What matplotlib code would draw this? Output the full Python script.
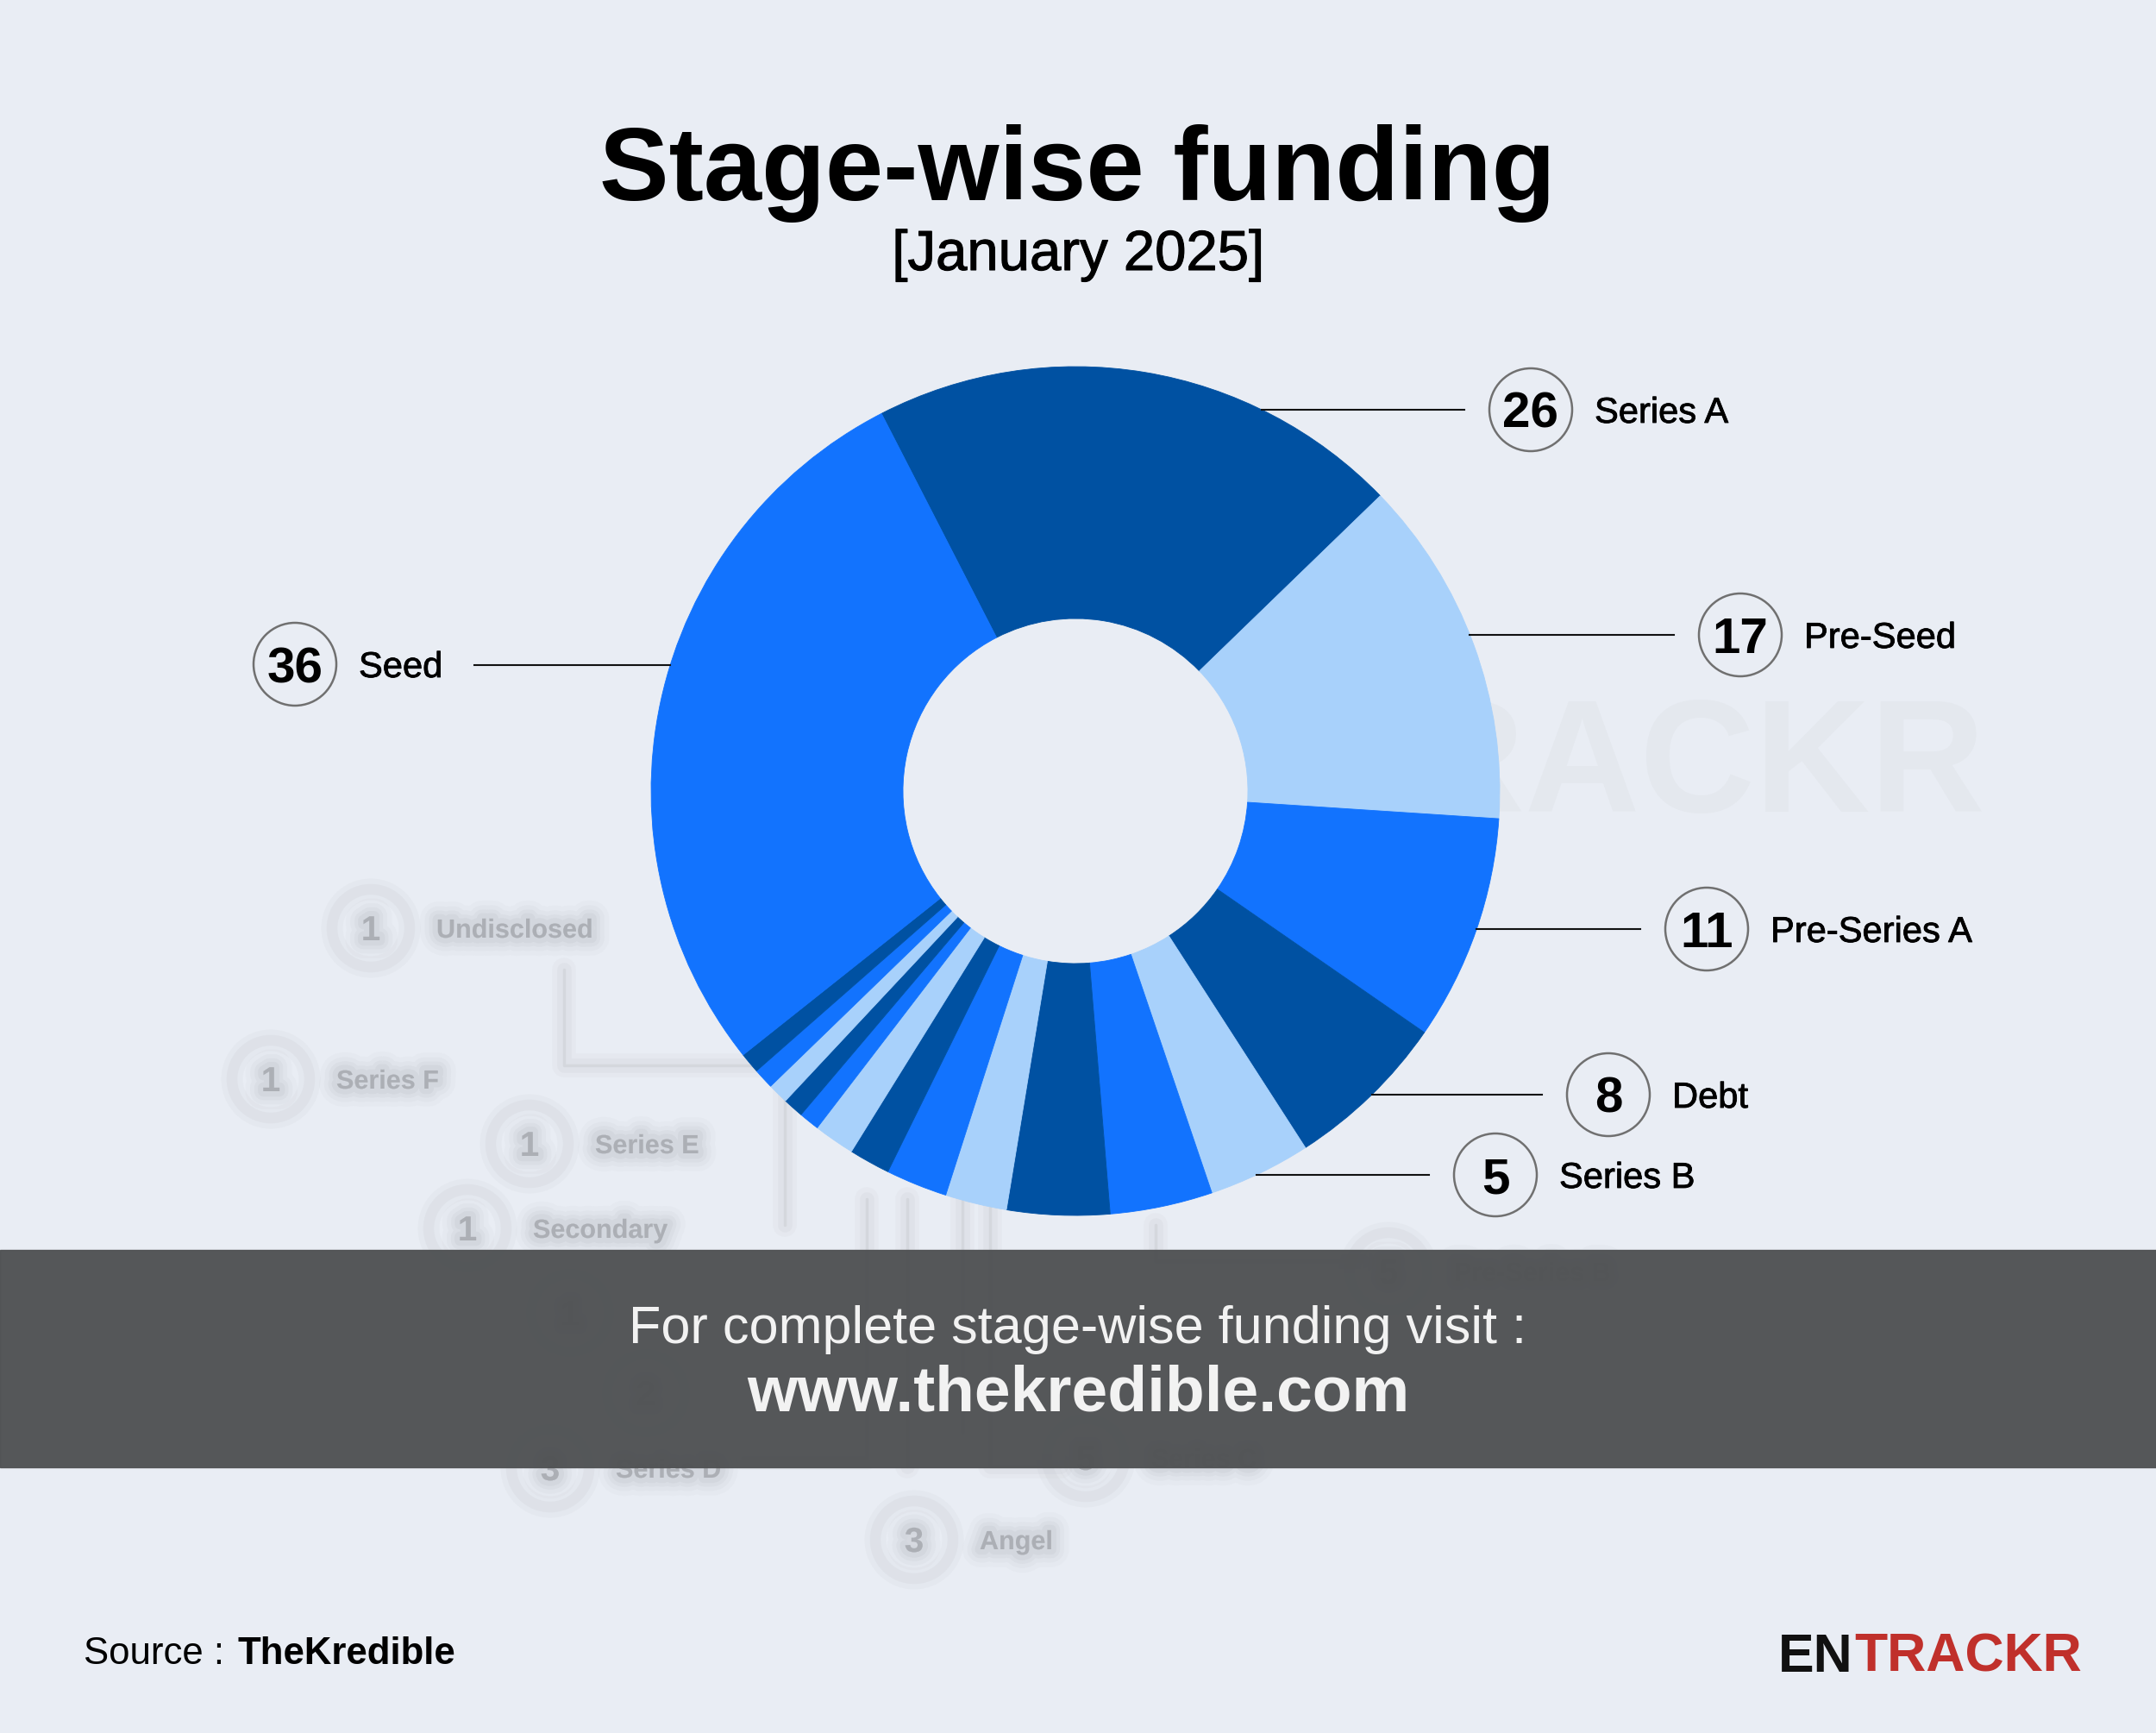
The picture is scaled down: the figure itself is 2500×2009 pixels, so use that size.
import matplotlib
matplotlib.use("Agg")
import matplotlib.pyplot as plt
import matplotlib.patheffects as pe
from matplotlib.patches import Circle, Rectangle

W, H = 2500, 2009
plt.rcParams['font.family'] = ['Liberation Sans', 'DejaVu Sans']

# ---- data (number of deals per stage, clockwise from Series A) ----
stages = ["Series A", "Pre-Seed", "Pre-Series A", "Debt", "Series B",
          "Pre-Series B", "Series C", "Angel", "Series D", "Bridge", "Pre-Series C",
          "Undisclosed", "Series F", "Series E", "Secondary", "Series G", "Seed"]
deals = [26, 17, 11, 8, 5,
         5, 5, 3, 3, 2, 2,
         1, 1, 1, 1, 1, 36]

# stages called out with a number bubble
callouts_right = ["Series A", "Pre-Seed", "Pre-Series A", "Debt", "Series B"]
callouts_left = ["Seed"]
# stages shown blurred in the background (last two sit under the banner)
blurred = ["Undisclosed", "Series F", "Series E", "Secondary",
           "Series D", "Angel", "Series C", "Pre-Series B", "Series G", "Bridge"]

title = "Stage-wise funding"
subtitle = "[January 2025]"
banner_1 = "For complete stage-wise funding visit :"
banner_2 = "www.thekredible.com"

# ---- styling ----
BG = "#e9edf4"
DARK, LIGHT, BRIGHT = "#0051a2", "#a8d1fb", "#1273fe"
cx, cy, R, r_in = 1247, 917, 492, 200


def Y(y):
    return H - y


fig = plt.figure(figsize=(W / 100, H / 100), dpi=100, facecolor=BG)
ax = fig.add_axes([0, 0, 1, 1])
ax.set_facecolor(BG)

# faint watermark behind the donut
ax.text(2302, Y(941), "ENTRACKR", fontsize=133, fontweight="bold",
        color="#e4e8ee", ha="right", va="baseline", zorder=0)
ax.add_patch(Circle((cx, Y(cy)), r_in + 2, color=BG, zorder=1))

# blurred background tree
gray = "#8f9298"
fx_text = [pe.withStroke(linewidth=30, foreground=gray, alpha=0.035),
           pe.withStroke(linewidth=22, foreground=gray, alpha=0.05),
           pe.withStroke(linewidth=15, foreground=gray, alpha=0.07),
           pe.withStroke(linewidth=9, foreground=gray, alpha=0.09)]
fx_line = [pe.Stroke(linewidth=20, foreground="#c9ccd2", alpha=0.12),
           pe.Stroke(linewidth=12, foreground="#c9ccd2", alpha=0.2),
           pe.Normal()]
fx_ring = [pe.Stroke(linewidth=18, foreground="#c6c9ce", alpha=0.12),
           pe.Stroke(linewidth=9, foreground="#c6c9ce", alpha=0.2)]
blur_pos = [(430, 1076), (314, 1251), (614, 1326), (542, 1424),
            (638, 1702), (1060, 1785), (1259, 1690), (1610, 1474),
            (661, 1522), (749, 1615)]
segs = [[(654, 1124), (654, 1235), (910, 1235), (910, 1420)],
        [(1005, 1390), (1005, 1690), (861, 1690)],
        [(1052, 1390), (1052, 1700)],
        [(1116, 1390), (1116, 1660)],
        [(1148, 1390), (1148, 1700), (1230, 1700)],
        [(1340, 1420), (1340, 1462), (1580, 1462)]]
for s in segs:
    xs = [p[0] for p in s]
    ys = [Y(p[1]) for p in s]
    ax.plot(xs, ys, color="#cdd0d5", lw=2.5, alpha=0.6, zorder=1,
            path_effects=fx_line, solid_capstyle="round")
for i, (name, (bx, by)) in enumerate(zip(blurred, blur_pos)):
    val = deals[stages.index(name)]
    c = Circle((bx, Y(by)), 45, fill=False, ec="#c3c6cb", lw=2, alpha=0.6, zorder=1)
    c.set_path_effects(fx_ring)
    ax.add_patch(c)
    ax.text(bx, Y(by) - 14, str(val), fontsize=29, fontweight="bold", color=gray,
            alpha=0.12, ha="center", va="baseline", zorder=1, path_effects=fx_text)
    if i < 8:
        ax.text(bx + 76, Y(by) - 11, name, fontsize=22, fontweight="bold", color=gray,
                alpha=0.12, ha="left", va="baseline", zorder=1, path_effects=fx_text)

# donut
palette = [DARK, LIGHT, BRIGHT]
colors = [palette[i % 3] for i in range(len(deals) - 1)] + [BRIGHT]
wedges, _ = ax.pie(deals, colors=colors, startangle=117.2, counterclock=False,
                   radius=R, center=(cx, Y(cy)),
                   wedgeprops=dict(width=R - r_in, linewidth=0.6),
                   frame=True)
for w, col in zip(wedges, colors):
    w.set_edgecolor(col)
    w.set_zorder(2)

# callouts
label_y = {"Series A": 475, "Pre-Seed": 736, "Pre-Series A": 1077,
           "Debt": 1269, "Series B": 1362, "Seed": 771}
line_end = {"Series A": 1698, "Pre-Seed": 1941, "Pre-Series A": 1902,
            "Debt": 1788, "Series B": 1657, "Seed": 550}


def bubble(x, y, name):
    val = deals[stages.index(name)]
    ax.add_patch(Circle((x, Y(y)), 48, fill=False, ec="#707070", lw=1.8, zorder=3))
    ax.text(x, Y(y) - 21, str(val), fontsize=42, fontweight="bold",
            color="black", ha="center", va="baseline", zorder=4)
    ax.text(x + 74, Y(y) - 15, name, fontsize=30, color="black",
            ha="left", va="baseline", zorder=4,
            path_effects=[pe.withStroke(linewidth=0.6, foreground="black")])


for name in callouts_right:
    y = label_y[name]
    x0 = cx + (R ** 2 - (cy - y) ** 2) ** 0.5
    ax.plot([x0, line_end[name]], [Y(y), Y(y)], color="#111111", lw=1.5, zorder=3)
    bubble(line_end[name] + 77, y, name)

for name in callouts_left:
    y = label_y[name]
    x0 = cx - (R ** 2 - (cy - y) ** 2) ** 0.5
    ax.plot([line_end[name], x0], [Y(y), Y(y)], color="#111111", lw=1.5, zorder=3)
    bubble(342, y - 1, name)

# titles
ax.text(1249, Y(232), title, fontsize=87, fontweight="bold", color="black",
        ha="center", va="baseline", zorder=5)
ax.text(1250, Y(313), subtitle, fontsize=47, color="black",
        ha="center", va="baseline", zorder=5,
        path_effects=[pe.withStroke(linewidth=0.8, foreground="black")])

# banner
ax.add_patch(Rectangle((0, Y(1701)), W, 252, color="#505254", alpha=0.97, zorder=6))
ax.text(1250, Y(1557), banner_1, fontsize=44, color="#f2f2f2",
        ha="center", va="baseline", zorder=7)
ax.text(1250, Y(1635), banner_2, fontsize=54, fontweight="bold", color="#f2f2f2",
        ha="center", va="baseline", zorder=7)

# footer
ax.text(97, Y(1929), "Source :", fontsize=31.5, color="black",
        ha="left", va="baseline", zorder=5)
ax.text(275, Y(1929), "TheKredible", fontsize=31.5, fontweight="bold",
        color="black", ha="left", va="baseline", zorder=5)
ax.text(2062, Y(1938), "EN", fontsize=45, fontweight="bold", color="#111111",
        ha="left", va="baseline", zorder=5)
ax.text(2150, Y(1938), "TRACKR", fontsize=45, fontweight="bold", color="#c0302b",
        ha="left", va="baseline", zorder=5)

ax.set_xlim(0, W)
ax.set_ylim(0, H)
ax.set_axis_off()

fig.savefig("out.png", dpi=100, facecolor=BG)
